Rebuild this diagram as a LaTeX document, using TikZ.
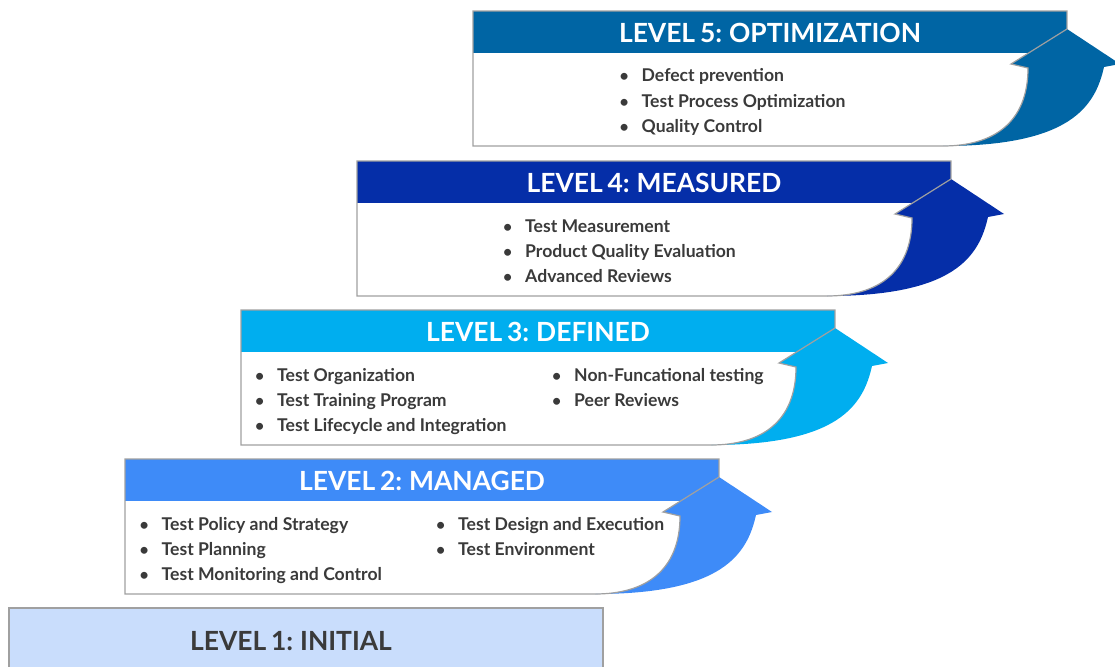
\documentclass[tikz,border=0pt]{standalone}
\usepackage{fontspec}
\setmainfont{Lato}
\newfontfamily\hdrfont{Lato}[WordSpace=0.75]
\definecolor{lvone}{RGB}{201,221,252}
\definecolor{lvtwo}{RGB}{62,139,248}
\definecolor{lvthree}{RGB}{0,174,239}
\definecolor{lvfour}{RGB}{5,46,168}
\definecolor{lvfive}{RGB}{0,101,164}
\definecolor{framegray}{RGB}{160,160,160}
\definecolor{textgray}{RGB}{58,58,58}
\tikzset{
	frame/.style={draw=framegray, line width=1.2pt, line join=miter},
	hdrtext/.style={text=white, inner sep=0pt, font=\hdrfont\fontsize{26.4}{30}\selectfont\bfseries},
	itemtext/.style={text=textgray, inner sep=0pt, anchor=base west, font=\fontsize{17.6}{25}\selectfont\bfseries},
}
\newcommand{\bitem}[1]{\makebox[35pt][c]{\scalebox{0.9}{\textbullet}}#1}
\begin{document}
\begin{tikzpicture}[x=1pt,y=-1pt]
	\useasboundingbox (0,0) rectangle (1115,666);
	
	% level 1
	\draw[frame, fill=lvone] (9,608) rectangle (603,700);
	\node[hdrtext, text=textgray] (h1) at (291,641) {LEVEL 1: INITIAL};
	
	% levels 2 to 5 with their arrows
	\foreach \lv/\xo/\yo/\col/\ttl in {2/125/459/lvtwo/{LEVEL 2: MANAGED},
		3/241/310/lvthree/{LEVEL 3: DEFINED},
		4/357/161/lvfour/{LEVEL 4: MEASURED},
		5/473/11/lvfive/{LEVEL 5: OPTIMIZATION}}{
	\begin{scope}[shift={(\xo,\yo)}]
		\coordinate (tl\lv) at (0,0);
		\coordinate (tr\lv) at (594,0);
		\coordinate (tip\lv) at (594,18);
		\coordinate (lb\lv) at (538,53);
		\coordinate (ln\lv) at (555,57);
		\coordinate (rb\lv) at (647,53);
		\coordinate (rn\lv) at (631,56);
		\coordinate (bt\lv) at (470,135);
		\coordinate (bl\lv) at (0,135);
		\fill[\col] (bt\lv) .. controls (597,135) and (622,96) .. (rn\lv)
			-- (rb\lv) -- (tip\lv) -- (lb\lv) -- (ln\lv)
			.. controls (555,112) and (520,135) .. (bt\lv) -- cycle;
		\fill[\col] (tl\lv) rectangle (594,42);
		\draw[frame] (bl\lv) -- (tl\lv) -- (tr\lv) -- (tip\lv) -- (lb\lv) -- (ln\lv)
			.. controls (555,112) and (520,135) .. (bt\lv) -- cycle;
		\node[hdrtext] (h\lv) at (297,21.5) {\ttl};
	\end{scope}
	}
	
	% items
	\foreach \txt [count=\i] in {Test Policy and Strategy, Test Planning, Test Monitoring and Control}
		\node[itemtext] (a2-\i) at (126.5,{505+25*\i}) {\bitem{\txt}};
	\foreach \txt [count=\i] in {Test Design and Execution, Test Environment}
		\node[itemtext] (b2-\i) at (423,{505+25*\i}) {\bitem{\txt}};
	\foreach \txt [count=\i] in {Test Organization, Test Training Program, Test Lifecycle and Integration}
		\node[itemtext] (a3-\i) at (242,{356+25*\i}) {\bitem{\txt}};
	\foreach \txt [count=\i] in {Non-Funcational testing, Peer Reviews}
		\node[itemtext] (b3-\i) at (539,{356+25*\i}) {\bitem{\txt}};
	\foreach \txt [count=\i] in {Test Measurement, Product Quality Evaluation, Advanced Reviews}
		\node[itemtext] (a4-\i) at (490,{207+25*\i}) {\bitem{\txt}};
	\foreach \txt [count=\i] in {Defect prevention, Test Process Optimization, Quality Control}
		\node[itemtext] (a5-\i) at (606.5,{57+25*\i}) {\bitem{\txt}};
\end{tikzpicture}
\end{document}
